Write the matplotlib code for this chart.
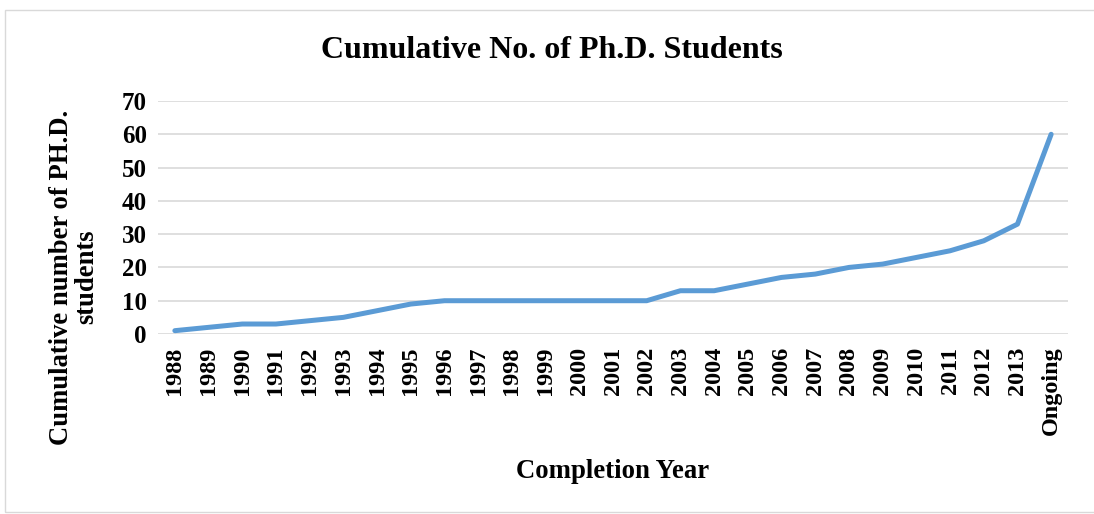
import matplotlib
matplotlib.use("Agg")
import matplotlib.pyplot as plt
from matplotlib.patches import Rectangle

years = ["1988", "1989", "1990", "1991", "1992", "1993", "1994", "1995", "1996",
         "1997", "1998", "1999", "2000", "2001", "2002", "2003", "2004", "2005",
         "2006", "2007", "2008", "2009", "2010", "2011", "2012", "2013", "Ongoing"]
students = [1, 2, 3, 3, 4, 5, 7, 9, 10, 10, 10, 10, 10, 10, 10, 13, 13, 15,
            17, 18, 20, 21, 23, 25, 28, 33, 60]
yticks = [0, 10, 20, 30, 40, 50, 60, 70]

plt.rcParams["font.family"] = ["Liberation Serif", "DejaVu Serif"]
plt.rcParams["font.weight"] = "bold"

fig = plt.figure(figsize=(10.94, 5.14), dpi=100)
ax = fig.add_axes([158 / 1094, 1 - 334 / 514, (1068 - 158) / 1094, (334 - 101) / 514])

# chart frame
fig.patches.append(Rectangle((5 / 1094, 0.004), 1.2, 1 - 10 / 514 - 0.004,
                             transform=fig.transFigure, fill=False,
                             edgecolor="#d9d9d9", linewidth=1))

x = list(range(len(years)))
ax.plot(x, students, color="#5b9bd5", linewidth=3.6, solid_capstyle="round",
        solid_joinstyle="round", zorder=3)

ax.set_xlim(-0.5, len(years) - 0.5)
ax.set_ylim(0, 70)
ax.set_yticks(yticks)
ax.set_yticklabels([str(v) for v in yticks], fontsize=18, fontweight="bold")
ax.set_xticks(x)
ax.set_xticklabels(years, rotation=90, fontsize=17.5, fontweight="bold")
ax.tick_params(axis="y", length=0, pad=8)
ax.tick_params(axis="x", length=0, pad=9)
ax.grid(axis="y", color="#d9d9d9", linewidth=1.2)
ax.set_axisbelow(True)
for s in ax.spines.values():
    s.set_visible(False)

fig.text(552 / 1094, 1 - 50 / 514, "Cumulative No. of Ph.D. Students",
         ha="center", va="center", fontsize=23, fontweight="bold")
fig.text(613 / 1094, 1 - 472 / 514, "Completion Year",
         ha="center", va="center", fontsize=19.3, fontweight="bold")
fig.text(74 / 1094, 1 - 277 / 514, "Cumulative number of PH.D.\nstudents",
         ha="center", va="center", rotation=90, fontsize=19.2, fontweight="bold",
         linespacing=1.02)

fig.savefig("out.png", dpi=100)
